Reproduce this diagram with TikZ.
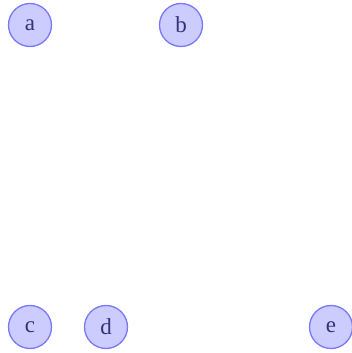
\documentclass[tikz,border=0pt]{standalone}
\usepackage{fontspec}
\setmainfont{Liberation Serif}
\usepackage{tikz}

\definecolor{vfill}{RGB}{204,204,255}
\definecolor{vdraw}{RGB}{120,120,255}
\definecolor{vtext}{RGB}{51,51,119}

\begin{document}
\begin{tikzpicture}[
    x=1pt, y=1pt,
    every node/.style={font=\fontsize{23}{25}\selectfont},
    vx/.style={circle, draw=vdraw, fill=vfill, line width=1.3pt,
               minimum size=43pt, inner sep=0pt, text=vtext},
  ]
  \useasboundingbox (0,0) rectangle (351,353);
  \node[vx] (a) at (30,328) {a};
  \node[vx] (b) at (181,328) {b};
  \node[vx] (c) at (30,26) {c};
  \node[vx] (d) at (106,26) {d};
  \node[vx] (e) at (331,26) {e};
\end{tikzpicture}
\end{document}
